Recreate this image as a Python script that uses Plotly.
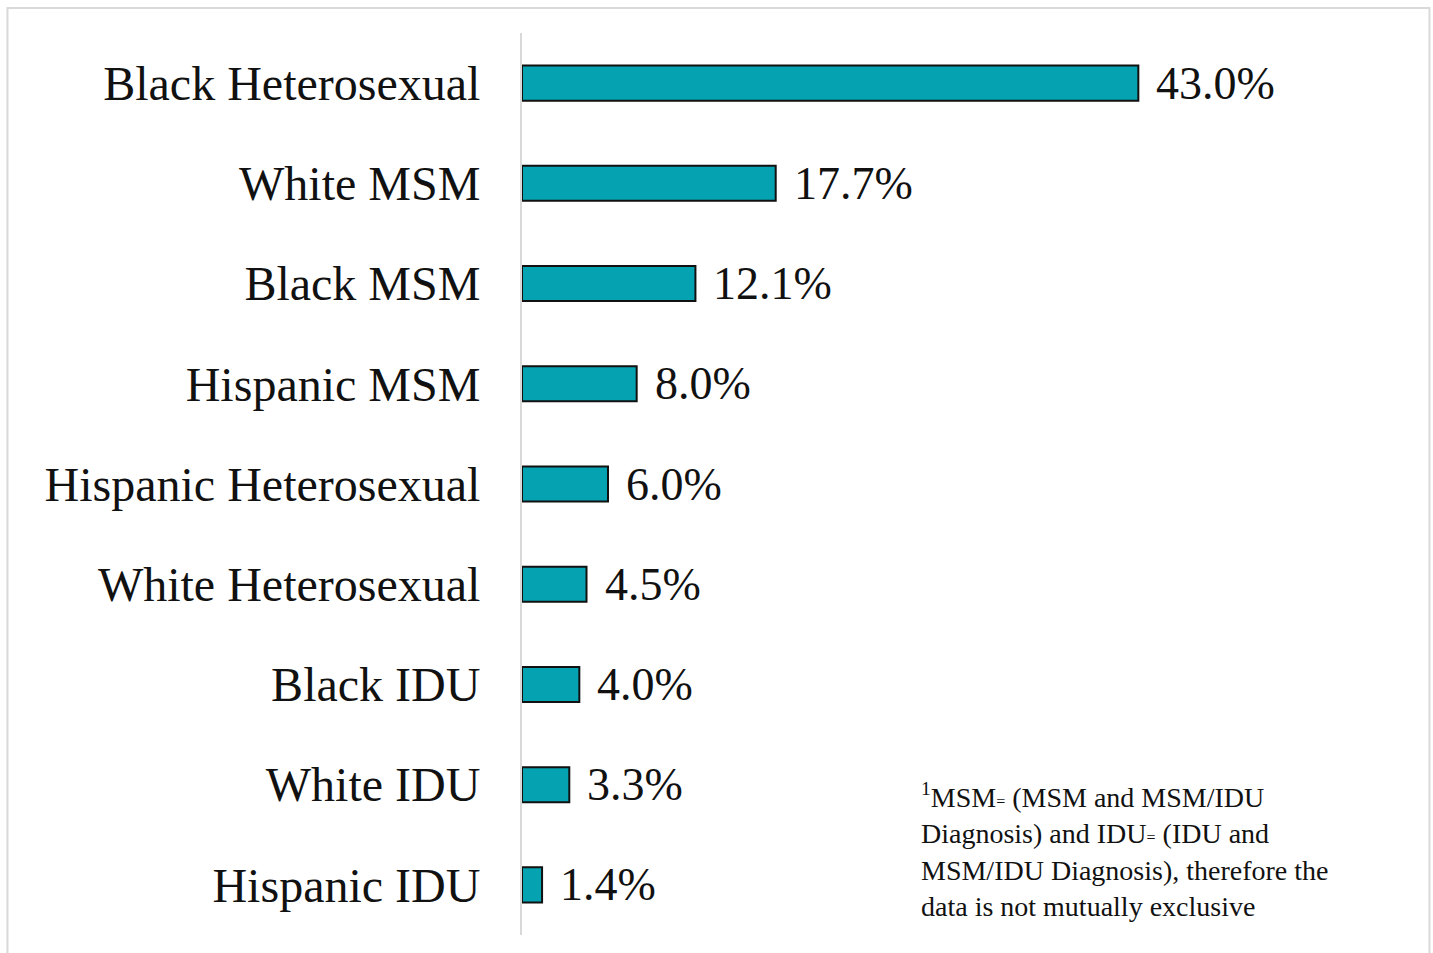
import plotly.graph_objects as go

categories = [
    "Black Heterosexual",
    "White MSM",
    "Black MSM",
    "Hispanic MSM",
    "Hispanic Heterosexual",
    "White Heterosexual",
    "Black IDU",
    "White IDU",
    "Hispanic IDU",
]
percentages = [43.0, 17.7, 12.1, 8.0, 6.0, 4.5, 4.0, 3.3, 1.4]
value_labels = [f"{v:.1f}%" for v in percentages]

small_eq = "<span style='font-size:16px'>=</span>"
footnote = (
    f"<sup>1</sup>MSM{small_eq} (MSM and MSM/IDU<br>"
    f"Diagnosis) and IDU{small_eq} (IDU and<br>"
    "MSM/IDU Diagnosis), therefore the<br>"
    "data is not mutually exclusive"
)

FONT = "Liberation Serif"
BAR_COLOR = "#05A3B1"

fig = go.Figure()
fig.add_trace(
    go.Bar(
        y=categories,
        x=percentages,
        orientation="h",
        marker=dict(color=BAR_COLOR, line=dict(color="#111111", width=2)),
        hoverinfo="skip",
    )
)

# value labels just past the end of each bar
for cat, val, lab in zip(categories, percentages, value_labels):
    fig.add_annotation(
        x=val, y=cat, text=lab, xanchor="left", yanchor="middle",
        xshift=16, showarrow=False,
        font=dict(family=FONT, size=46, color="#111111"),
    )

fig.add_annotation(
    xref="paper", yref="paper", x=0.462, y=0.176,
    xanchor="left", yanchor="top", align="left", showarrow=False,
    text=footnote, font=dict(family=FONT, size=28, color="#111111"),
)

# outer frame
fig.add_shape(
    type="rect", xref="paper", yref="paper",
    x0=-0.5983, x1=1.0552, y0=-0.03, y1=1.0277,
    line=dict(color="#d9d9d9", width=2), layer="below",
)

fig.update_layout(
    width=1433, height=953,
    margin=dict(l=522, r=51, t=33, b=18),
    paper_bgcolor="white", plot_bgcolor="white",
    bargap=0.65, showlegend=False,
    font=dict(family=FONT, color="#111111"),
)
fig.update_xaxes(range=[0, 60], visible=False)
fig.update_yaxes(
    autorange="reversed", showline=True, linecolor="#d9d9d9", linewidth=2,
    ticks="", ticklabelstandoff=30, showgrid=False,
    tickfont=dict(family=FONT, size=48, color="#111111"),
)

fig.write_html("out.html")
